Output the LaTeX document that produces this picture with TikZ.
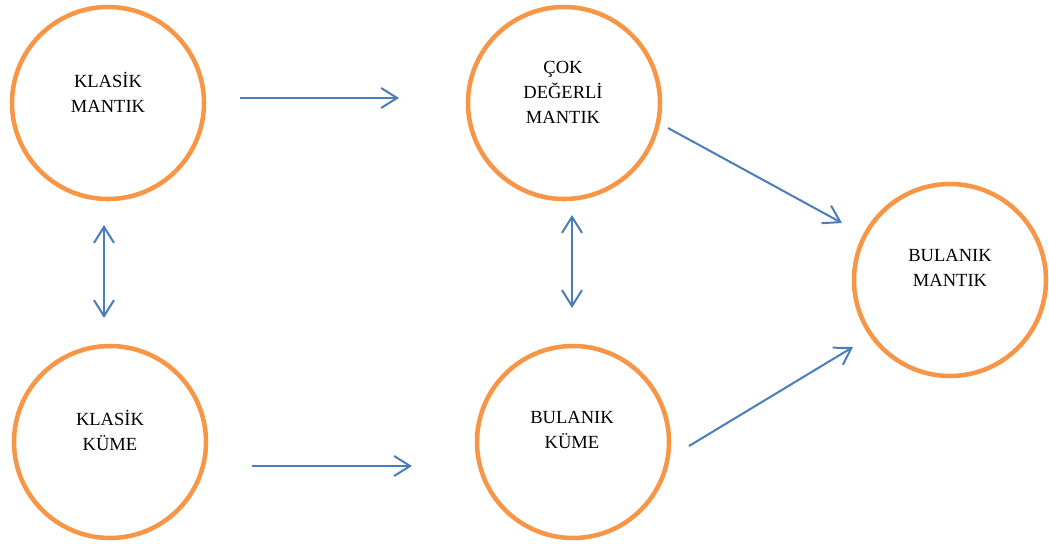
\documentclass[tikz,border=0pt]{standalone}
\usepackage{fontspec}
\setmainfont{Liberation Serif}
\usetikzlibrary{arrows.meta}
\definecolor{ring}{HTML}{F79646}
\definecolor{link}{HTML}{4A7EBB}
\tikzset{
  ringnode/.style={circle,draw=ring,line width=3.4pt,minimum size=144pt,inner sep=0pt},
  txt/.style={align=center,font=\fontsize{13.9}{18.75}\selectfont,inner sep=0pt},
  linkarrow/.style={draw=link,line width=1.5pt,-{Straight Barb[length=12pt,width=15pt,line width=1.5pt]}},
  twoway/.style={draw=link,line width=1.5pt,{Straight Barb[length=12pt,width=15pt,line width=1.5pt]}-{Straight Barb[length=12pt,width=15pt,line width=1.5pt]}}
}
\begin{document}
\begin{tikzpicture}[x=0.75pt,y=-0.75pt]
  \useasboundingbox (0,0) rectangle (1049,543);
  \node[ringnode] (km) at (108,103) {}; % Klasik mantik
  \node[ringnode] (cdm) at (564,103) {}; % Cok degerli mantik
  \node[ringnode] (kk) at (110,442) {}; % Klasik kume
  \node[ringnode] (bk) at (573,442) {}; % Bulanik kume
  \node[ringnode] (bm) at (950,280) {}; % Bulanik mantik

  \node[txt] (kmtext) at (108,92) {KLASİK\\MANTIK};
  \node[txt] (cdmtext) at (563,92) {ÇOK\\DEĞERLİ\\MANTIK};
  \node[txt] (kktext) at (110,430) {KLASİK\\KÜME};
  \node[txt] (bktext) at (572,430) {BULANIK\\KÜME};
  \node[txt] (bmtext) at (950,268) {BULANIK\\MANTIK};

  % arrow ends
  \coordinate (t1) at (240,98);
  \coordinate (t2) at (399,98);
  \coordinate (b1) at (252,466);
  \coordinate (b2) at (412,466);
  \coordinate (l1) at (104,225);
  \coordinate (l2) at (104,318);
  \coordinate (m1) at (572,215);
  \coordinate (m2) at (572,308);
  \coordinate (d1) at (668,128);
  \coordinate (d2) at (842,223);
  \coordinate (e1) at (689,446);
  \coordinate (e2) at (853,347);

  \draw[linkarrow] (t1) to (t2);
  \draw[linkarrow] (b1) to (b2);
  \draw[twoway] (l1) to (l2);
  \draw[twoway] (m1) to (m2);
  \draw[linkarrow] (d1) to (d2);
  \draw[linkarrow] (e1) to (e2);
\end{tikzpicture}
\end{document}
